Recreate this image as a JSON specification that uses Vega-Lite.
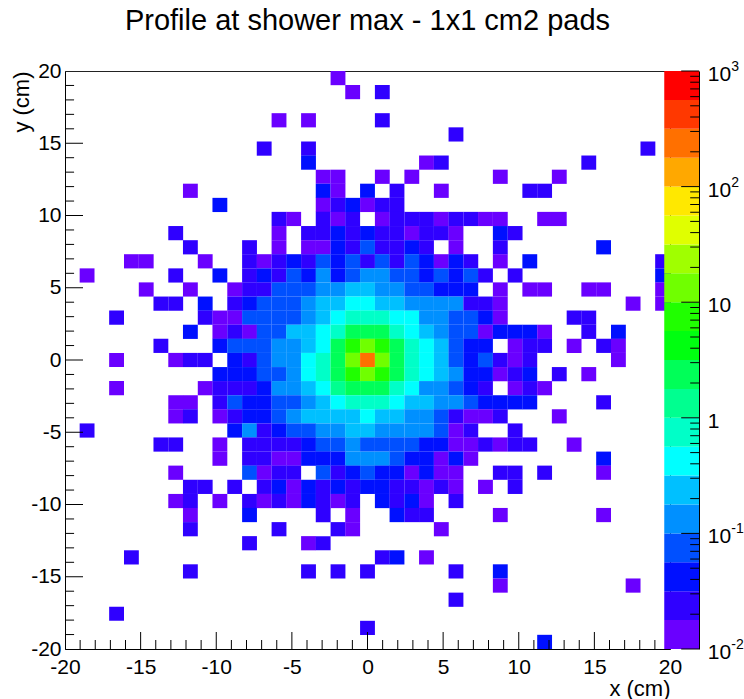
{"$schema":"https://vega.github.io/schema/vega-lite/v6.json","width":605,"height":578,"autosize":"none","padding":{"left":65,"top":71,"right":74,"bottom":50},"background":"white","view":{"stroke":"#222","strokeWidth":1},"config":{"font":"Liberation Sans","axis":{"grid":false}},"title":{"text":"Profile at shower max - 1x1 cm2 pads","font":"Liberation Sans","fontSize":29,"fontWeight":"normal","color":"black","anchor":"middle","frame":"group","baseline":"alphabetic","offset":1},"datasets":{"cells":[
{"x":-1.95,"y":19.51,"v":0.0133},
{"x":-0.98,"y":18.54,"v":0.0133},{"x":0.98,"y":18.54,"v":0.0237},
{"x":-5.85,"y":16.59,"v":0.0133},{"x":-3.9,"y":16.59,"v":0.0133},{"x":0.98,"y":16.59,"v":0.0237},
{"x":5.85,"y":15.61,"v":0.0237},
{"x":-6.83,"y":14.63,"v":0.0237},{"x":-3.9,"y":14.63,"v":0.0237},{"x":18.54,"y":14.63,"v":0.0237},
{"x":-3.9,"y":13.66,"v":0.0422},{"x":3.9,"y":13.66,"v":0.0133},{"x":4.88,"y":13.66,"v":0.0237},{"x":14.63,"y":13.66,"v":0.0237},
{"x":-2.93,"y":12.68,"v":0.0133},{"x":-1.95,"y":12.68,"v":0.0133},{"x":0.98,"y":12.68,"v":0.0133},{"x":2.93,"y":12.68,"v":0.0133},{"x":8.78,"y":12.68,"v":0.0133},{"x":12.68,"y":12.68,"v":0.0133},
{"x":-11.71,"y":11.71,"v":0.0133},{"x":-2.93,"y":11.71,"v":0.0422},{"x":-1.95,"y":11.71,"v":0.0133},{"x":0,"y":11.71,"v":0.0422},{"x":1.95,"y":11.71,"v":0.0237},{"x":4.88,"y":11.71,"v":0.0133},{"x":10.73,"y":11.71,"v":0.0237},{"x":11.71,"y":11.71,"v":0.0237},
{"x":-9.76,"y":10.73,"v":0.0422},{"x":-2.93,"y":10.73,"v":0.0133},{"x":-1.95,"y":10.73,"v":0.0237},{"x":-0.98,"y":10.73,"v":0.0422},{"x":0,"y":10.73,"v":0.0133},{"x":0.98,"y":10.73,"v":0.0237},{"x":1.95,"y":10.73,"v":0.0237},
{"x":-5.85,"y":9.76,"v":0.0237},{"x":-4.88,"y":9.76,"v":0.0133},{"x":-2.93,"y":9.76,"v":0.0237},{"x":-1.95,"y":9.76,"v":0.0133},{"x":-0.98,"y":9.76,"v":0.0237},{"x":0.98,"y":9.76,"v":0.0133},{"x":1.95,"y":9.76,"v":0.0237},{"x":2.93,"y":9.76,"v":0.0237},{"x":3.9,"y":9.76,"v":0.0237},{"x":4.88,"y":9.76,"v":0.0133},{"x":5.85,"y":9.76,"v":0.0237},{"x":6.83,"y":9.76,"v":0.0237},{"x":7.8,"y":9.76,"v":0.0133},{"x":8.78,"y":9.76,"v":0.0133},{"x":11.71,"y":9.76,"v":0.0133},{"x":12.68,"y":9.76,"v":0.0133},
{"x":-12.68,"y":8.78,"v":0.0237},{"x":-5.85,"y":8.78,"v":0.0133},{"x":-3.9,"y":8.78,"v":0.0237},{"x":-2.93,"y":8.78,"v":0.0237},{"x":-1.95,"y":8.78,"v":0.0422},{"x":-0.98,"y":8.78,"v":0.0237},{"x":0,"y":8.78,"v":0.0422},{"x":0.98,"y":8.78,"v":0.0237},{"x":1.95,"y":8.78,"v":0.0237},{"x":2.93,"y":8.78,"v":0.0133},{"x":3.9,"y":8.78,"v":0.0237},{"x":4.88,"y":8.78,"v":0.0237},{"x":5.85,"y":8.78,"v":0.0133},{"x":8.78,"y":8.78,"v":0.0422},{"x":9.76,"y":8.78,"v":0.0237},
{"x":-11.71,"y":7.8,"v":0.0237},{"x":-7.8,"y":7.8,"v":0.0237},{"x":-5.85,"y":7.8,"v":0.0133},{"x":-3.9,"y":7.8,"v":0.0133},{"x":-2.93,"y":7.8,"v":0.0133},{"x":-1.95,"y":7.8,"v":0.0422},{"x":-0.98,"y":7.8,"v":0.0237},{"x":0,"y":7.8,"v":0.075},{"x":0.98,"y":7.8,"v":0.0237},{"x":1.95,"y":7.8,"v":0.0237},{"x":2.93,"y":7.8,"v":0.0422},{"x":3.9,"y":7.8,"v":0.0237},{"x":5.85,"y":7.8,"v":0.0133},{"x":8.78,"y":7.8,"v":0.0237},{"x":15.61,"y":7.8,"v":0.0422},
{"x":-15.61,"y":6.83,"v":0.0133},{"x":-14.63,"y":6.83,"v":0.0133},{"x":-10.73,"y":6.83,"v":0.0133},{"x":-7.8,"y":6.83,"v":0.0237},{"x":-6.83,"y":6.83,"v":0.0133},{"x":-5.85,"y":6.83,"v":0.0237},{"x":-4.88,"y":6.83,"v":0.0422},{"x":-3.9,"y":6.83,"v":0.0237},{"x":-2.93,"y":6.83,"v":0.075},{"x":-1.95,"y":6.83,"v":0.0422},{"x":-0.98,"y":6.83,"v":0.075},{"x":0,"y":6.83,"v":0.0237},{"x":0.98,"y":6.83,"v":0.075},{"x":1.95,"y":6.83,"v":0.0237},{"x":2.93,"y":6.83,"v":0.075},{"x":3.9,"y":6.83,"v":0.0422},{"x":4.88,"y":6.83,"v":0.0133},{"x":5.85,"y":6.83,"v":0.0422},{"x":6.83,"y":6.83,"v":0.0237},{"x":8.78,"y":6.83,"v":0.0133},{"x":10.73,"y":6.83,"v":0.0422},{"x":19.51,"y":6.83,"v":0.0237},
{"x":-18.54,"y":5.85,"v":0.0133},{"x":-12.68,"y":5.85,"v":0.0237},{"x":-9.76,"y":5.85,"v":0.0422},{"x":-7.8,"y":5.85,"v":0.0237},{"x":-6.83,"y":5.85,"v":0.0422},{"x":-5.85,"y":5.85,"v":0.0237},{"x":-4.88,"y":5.85,"v":0.075},{"x":-3.9,"y":5.85,"v":0.0422},{"x":-2.93,"y":5.85,"v":0.133},{"x":-1.95,"y":5.85,"v":0.0422},{"x":-0.98,"y":5.85,"v":0.075},{"x":0,"y":5.85,"v":0.133},{"x":0.98,"y":5.85,"v":0.133},{"x":1.95,"y":5.85,"v":0.075},{"x":2.93,"y":5.85,"v":0.075},{"x":3.9,"y":5.85,"v":0.0422},{"x":4.88,"y":5.85,"v":0.075},{"x":5.85,"y":5.85,"v":0.0422},{"x":6.83,"y":5.85,"v":0.075},{"x":7.8,"y":5.85,"v":0.0237},{"x":9.76,"y":5.85,"v":0.0237},{"x":19.51,"y":5.85,"v":0.0422},
{"x":-14.63,"y":4.88,"v":0.0133},{"x":-11.71,"y":4.88,"v":0.0133},{"x":-8.78,"y":4.88,"v":0.0133},{"x":-7.8,"y":4.88,"v":0.0237},{"x":-6.83,"y":4.88,"v":0.0237},{"x":-5.85,"y":4.88,"v":0.075},{"x":-4.88,"y":4.88,"v":0.075},{"x":-3.9,"y":4.88,"v":0.075},{"x":-2.93,"y":4.88,"v":0.133},{"x":-1.95,"y":4.88,"v":0.133},{"x":-0.98,"y":4.88,"v":0.237},{"x":0,"y":4.88,"v":0.237},{"x":0.98,"y":4.88,"v":0.133},{"x":1.95,"y":4.88,"v":0.133},{"x":2.93,"y":4.88,"v":0.075},{"x":3.9,"y":4.88,"v":0.075},{"x":4.88,"y":4.88,"v":0.0422},{"x":5.85,"y":4.88,"v":0.0422},{"x":6.83,"y":4.88,"v":0.0422},{"x":8.78,"y":4.88,"v":0.0133},{"x":10.73,"y":4.88,"v":0.0133},{"x":11.71,"y":4.88,"v":0.0133},{"x":14.63,"y":4.88,"v":0.0133},{"x":15.61,"y":4.88,"v":0.0133},{"x":19.51,"y":4.88,"v":0.0133},
{"x":-13.66,"y":3.9,"v":0.0237},{"x":-12.68,"y":3.9,"v":0.0237},{"x":-10.73,"y":3.9,"v":0.0422},{"x":-8.78,"y":3.9,"v":0.0237},{"x":-7.8,"y":3.9,"v":0.0422},{"x":-6.83,"y":3.9,"v":0.075},{"x":-5.85,"y":3.9,"v":0.075},{"x":-4.88,"y":3.9,"v":0.075},{"x":-3.9,"y":3.9,"v":0.133},{"x":-2.93,"y":3.9,"v":0.237},{"x":-1.95,"y":3.9,"v":0.237},{"x":-0.98,"y":3.9,"v":0.422},{"x":0,"y":3.9,"v":0.422},{"x":0.98,"y":3.9,"v":0.237},{"x":1.95,"y":3.9,"v":0.237},{"x":2.93,"y":3.9,"v":0.133},{"x":3.9,"y":3.9,"v":0.133},{"x":4.88,"y":3.9,"v":0.133},{"x":5.85,"y":3.9,"v":0.133},{"x":6.83,"y":3.9,"v":0.0237},{"x":7.8,"y":3.9,"v":0.0237},{"x":8.78,"y":3.9,"v":0.0133},{"x":17.56,"y":3.9,"v":0.0133},{"x":19.51,"y":3.9,"v":0.0133},
{"x":-16.59,"y":2.93,"v":0.0237},{"x":-10.73,"y":2.93,"v":0.0237},{"x":-9.76,"y":2.93,"v":0.0133},{"x":-8.78,"y":2.93,"v":0.0133},{"x":-7.8,"y":2.93,"v":0.075},{"x":-6.83,"y":2.93,"v":0.075},{"x":-5.85,"y":2.93,"v":0.075},{"x":-4.88,"y":2.93,"v":0.075},{"x":-3.9,"y":2.93,"v":0.133},{"x":-2.93,"y":2.93,"v":0.237},{"x":-1.95,"y":2.93,"v":0.422},{"x":-0.98,"y":2.93,"v":0.75},{"x":0,"y":2.93,"v":0.75},{"x":0.98,"y":2.93,"v":0.75},{"x":1.95,"y":2.93,"v":0.422},{"x":2.93,"y":2.93,"v":0.422},{"x":3.9,"y":2.93,"v":0.133},{"x":4.88,"y":2.93,"v":0.133},{"x":5.85,"y":2.93,"v":0.075},{"x":6.83,"y":2.93,"v":0.075},{"x":7.8,"y":2.93,"v":0.0422},{"x":8.78,"y":2.93,"v":0.0133},{"x":13.66,"y":2.93,"v":0.0237},{"x":14.63,"y":2.93,"v":0.0237},
{"x":-11.71,"y":1.95,"v":0.0422},{"x":-9.76,"y":1.95,"v":0.0133},{"x":-8.78,"y":1.95,"v":0.0237},{"x":-7.8,"y":1.95,"v":0.0133},{"x":-6.83,"y":1.95,"v":0.075},{"x":-5.85,"y":1.95,"v":0.075},{"x":-4.88,"y":1.95,"v":0.237},{"x":-3.9,"y":1.95,"v":0.237},{"x":-2.93,"y":1.95,"v":0.422},{"x":-1.95,"y":1.95,"v":0.75},{"x":-0.98,"y":1.95,"v":2.37},{"x":0,"y":1.95,"v":2.37},{"x":0.98,"y":1.95,"v":2.37},{"x":1.95,"y":1.95,"v":0.75},{"x":2.93,"y":1.95,"v":0.422},{"x":3.9,"y":1.95,"v":0.237},{"x":4.88,"y":1.95,"v":0.133},{"x":5.85,"y":1.95,"v":0.075},{"x":6.83,"y":1.95,"v":0.075},{"x":7.8,"y":1.95,"v":0.0133},{"x":8.78,"y":1.95,"v":0.0422},{"x":9.76,"y":1.95,"v":0.0422},{"x":10.73,"y":1.95,"v":0.0422},{"x":11.71,"y":1.95,"v":0.0133},{"x":14.63,"y":1.95,"v":0.0237},{"x":16.59,"y":1.95,"v":0.0422},
{"x":-13.66,"y":0.98,"v":0.0237},{"x":-9.76,"y":0.98,"v":0.0422},{"x":-8.78,"y":0.98,"v":0.075},{"x":-7.8,"y":0.98,"v":0.075},{"x":-6.83,"y":0.98,"v":0.075},{"x":-5.85,"y":0.98,"v":0.133},{"x":-4.88,"y":0.98,"v":0.133},{"x":-3.9,"y":0.98,"v":0.237},{"x":-2.93,"y":0.98,"v":0.422},{"x":-1.95,"y":0.98,"v":2.37},{"x":-0.98,"y":0.98,"v":7.5},{"x":0,"y":0.98,"v":13.3},{"x":0.98,"y":0.98,"v":7.5},{"x":1.95,"y":0.98,"v":2.37},{"x":2.93,"y":0.98,"v":0.75},{"x":3.9,"y":0.98,"v":0.422},{"x":4.88,"y":0.98,"v":0.237},{"x":5.85,"y":0.98,"v":0.075},{"x":6.83,"y":0.98,"v":0.0422},{"x":7.8,"y":0.98,"v":0.0422},{"x":9.76,"y":0.98,"v":0.0133},{"x":10.73,"y":0.98,"v":0.0237},{"x":11.71,"y":0.98,"v":0.0237},{"x":13.66,"y":0.98,"v":0.0133},{"x":15.61,"y":0.98,"v":0.0237},{"x":16.59,"y":0.98,"v":0.0133},
{"x":-16.59,"y":0,"v":0.0133},{"x":-12.68,"y":0,"v":0.0133},{"x":-11.71,"y":0,"v":0.0237},{"x":-10.73,"y":0,"v":0.0237},{"x":-8.78,"y":0,"v":0.0422},{"x":-7.8,"y":0,"v":0.0237},{"x":-6.83,"y":0,"v":0.075},{"x":-5.85,"y":0,"v":0.133},{"x":-4.88,"y":0,"v":0.133},{"x":-3.9,"y":0,"v":0.422},{"x":-2.93,"y":0,"v":0.75},{"x":-1.95,"y":0,"v":2.37},{"x":-0.98,"y":0,"v":13.3},{"x":0,"y":0,"v":237},{"x":0.98,"y":0,"v":13.3},{"x":1.95,"y":0,"v":2.37},{"x":2.93,"y":0,"v":0.75},{"x":3.9,"y":0,"v":0.422},{"x":4.88,"y":0,"v":0.237},{"x":5.85,"y":0,"v":0.075},{"x":6.83,"y":0,"v":0.0422},{"x":7.8,"y":0,"v":0.075},{"x":8.78,"y":0,"v":0.0237},{"x":9.76,"y":0,"v":0.0133},{"x":10.73,"y":0,"v":0.0237},{"x":16.59,"y":0,"v":0.0133},
{"x":-9.76,"y":-0.98,"v":0.0422},{"x":-8.78,"y":-0.98,"v":0.0422},{"x":-7.8,"y":-0.98,"v":0.0422},{"x":-6.83,"y":-0.98,"v":0.075},{"x":-5.85,"y":-0.98,"v":0.075},{"x":-4.88,"y":-0.98,"v":0.133},{"x":-3.9,"y":-0.98,"v":0.422},{"x":-2.93,"y":-0.98,"v":0.75},{"x":-1.95,"y":-0.98,"v":2.37},{"x":-0.98,"y":-0.98,"v":7.5},{"x":0,"y":-0.98,"v":13.3},{"x":0.98,"y":-0.98,"v":7.5},{"x":1.95,"y":-0.98,"v":2.37},{"x":2.93,"y":-0.98,"v":0.75},{"x":3.9,"y":-0.98,"v":0.422},{"x":4.88,"y":-0.98,"v":0.237},{"x":5.85,"y":-0.98,"v":0.133},{"x":6.83,"y":-0.98,"v":0.0422},{"x":7.8,"y":-0.98,"v":0.0422},{"x":8.78,"y":-0.98,"v":0.0133},{"x":9.76,"y":-0.98,"v":0.0237},{"x":10.73,"y":-0.98,"v":0.0422},{"x":12.68,"y":-0.98,"v":0.0237},{"x":14.63,"y":-0.98,"v":0.0133},
{"x":-16.59,"y":-1.95,"v":0.0133},{"x":-10.73,"y":-1.95,"v":0.0133},{"x":-9.76,"y":-1.95,"v":0.0237},{"x":-8.78,"y":-1.95,"v":0.0237},{"x":-7.8,"y":-1.95,"v":0.0237},{"x":-6.83,"y":-1.95,"v":0.0422},{"x":-5.85,"y":-1.95,"v":0.133},{"x":-4.88,"y":-1.95,"v":0.133},{"x":-3.9,"y":-1.95,"v":0.237},{"x":-2.93,"y":-1.95,"v":0.422},{"x":-1.95,"y":-1.95,"v":1.33},{"x":-0.98,"y":-1.95,"v":2.37},{"x":0,"y":-1.95,"v":2.37},{"x":0.98,"y":-1.95,"v":2.37},{"x":1.95,"y":-1.95,"v":0.75},{"x":2.93,"y":-1.95,"v":0.422},{"x":3.9,"y":-1.95,"v":0.133},{"x":4.88,"y":-1.95,"v":0.133},{"x":5.85,"y":-1.95,"v":0.075},{"x":6.83,"y":-1.95,"v":0.0422},{"x":7.8,"y":-1.95,"v":0.0237},{"x":9.76,"y":-1.95,"v":0.0133},{"x":10.73,"y":-1.95,"v":0.0237},{"x":11.71,"y":-1.95,"v":0.0133},
{"x":-12.68,"y":-2.93,"v":0.0133},{"x":-11.71,"y":-2.93,"v":0.0133},{"x":-9.76,"y":-2.93,"v":0.0237},{"x":-8.78,"y":-2.93,"v":0.075},{"x":-7.8,"y":-2.93,"v":0.0422},{"x":-6.83,"y":-2.93,"v":0.0422},{"x":-5.85,"y":-2.93,"v":0.075},{"x":-4.88,"y":-2.93,"v":0.075},{"x":-3.9,"y":-2.93,"v":0.133},{"x":-2.93,"y":-2.93,"v":0.237},{"x":-1.95,"y":-2.93,"v":0.422},{"x":-0.98,"y":-2.93,"v":0.75},{"x":0,"y":-2.93,"v":0.75},{"x":0.98,"y":-2.93,"v":0.75},{"x":1.95,"y":-2.93,"v":0.422},{"x":2.93,"y":-2.93,"v":0.237},{"x":3.9,"y":-2.93,"v":0.237},{"x":4.88,"y":-2.93,"v":0.133},{"x":5.85,"y":-2.93,"v":0.133},{"x":6.83,"y":-2.93,"v":0.075},{"x":7.8,"y":-2.93,"v":0.0422},{"x":8.78,"y":-2.93,"v":0.0422},{"x":9.76,"y":-2.93,"v":0.0422},{"x":10.73,"y":-2.93,"v":0.0422},{"x":15.61,"y":-2.93,"v":0.0237},
{"x":-12.68,"y":-3.9,"v":0.0133},{"x":-11.71,"y":-3.9,"v":0.0237},{"x":-9.76,"y":-3.9,"v":0.0133},{"x":-8.78,"y":-3.9,"v":0.0237},{"x":-7.8,"y":-3.9,"v":0.0422},{"x":-6.83,"y":-3.9,"v":0.0422},{"x":-5.85,"y":-3.9,"v":0.075},{"x":-4.88,"y":-3.9,"v":0.133},{"x":-3.9,"y":-3.9,"v":0.237},{"x":-2.93,"y":-3.9,"v":0.237},{"x":-1.95,"y":-3.9,"v":0.237},{"x":-0.98,"y":-3.9,"v":0.237},{"x":0,"y":-3.9,"v":0.422},{"x":0.98,"y":-3.9,"v":0.237},{"x":1.95,"y":-3.9,"v":0.237},{"x":2.93,"y":-3.9,"v":0.133},{"x":3.9,"y":-3.9,"v":0.133},{"x":4.88,"y":-3.9,"v":0.075},{"x":5.85,"y":-3.9,"v":0.0237},{"x":6.83,"y":-3.9,"v":0.0133},{"x":7.8,"y":-3.9,"v":0.0133},{"x":8.78,"y":-3.9,"v":0.0237},{"x":12.68,"y":-3.9,"v":0.0133},
{"x":-18.54,"y":-4.88,"v":0.0237},{"x":-8.78,"y":-4.88,"v":0.0422},{"x":-7.8,"y":-4.88,"v":0.133},{"x":-6.83,"y":-4.88,"v":0.0237},{"x":-5.85,"y":-4.88,"v":0.0422},{"x":-4.88,"y":-4.88,"v":0.075},{"x":-3.9,"y":-4.88,"v":0.075},{"x":-2.93,"y":-4.88,"v":0.133},{"x":-1.95,"y":-4.88,"v":0.133},{"x":-0.98,"y":-4.88,"v":0.237},{"x":0,"y":-4.88,"v":0.237},{"x":0.98,"y":-4.88,"v":0.133},{"x":1.95,"y":-4.88,"v":0.133},{"x":2.93,"y":-4.88,"v":0.133},{"x":3.9,"y":-4.88,"v":0.133},{"x":4.88,"y":-4.88,"v":0.075},{"x":5.85,"y":-4.88,"v":0.0133},{"x":6.83,"y":-4.88,"v":0.0237},{"x":9.76,"y":-4.88,"v":0.0237},
{"x":-13.66,"y":-5.85,"v":0.0237},{"x":-12.68,"y":-5.85,"v":0.0237},{"x":-9.76,"y":-5.85,"v":0.0133},{"x":-7.8,"y":-5.85,"v":0.0237},{"x":-6.83,"y":-5.85,"v":0.0237},{"x":-5.85,"y":-5.85,"v":0.0237},{"x":-4.88,"y":-5.85,"v":0.0237},{"x":-3.9,"y":-5.85,"v":0.0422},{"x":-2.93,"y":-5.85,"v":0.075},{"x":-1.95,"y":-5.85,"v":0.075},{"x":-0.98,"y":-5.85,"v":0.133},{"x":0,"y":-5.85,"v":0.075},{"x":0.98,"y":-5.85,"v":0.075},{"x":1.95,"y":-5.85,"v":0.075},{"x":2.93,"y":-5.85,"v":0.075},{"x":3.9,"y":-5.85,"v":0.0422},{"x":4.88,"y":-5.85,"v":0.0422},{"x":5.85,"y":-5.85,"v":0.0133},{"x":6.83,"y":-5.85,"v":0.0133},{"x":7.8,"y":-5.85,"v":0.0237},{"x":8.78,"y":-5.85,"v":0.0133},{"x":9.76,"y":-5.85,"v":0.0237},{"x":10.73,"y":-5.85,"v":0.0237},{"x":13.66,"y":-5.85,"v":0.0133},
{"x":-9.76,"y":-6.83,"v":0.0133},{"x":-7.8,"y":-6.83,"v":0.0237},{"x":-6.83,"y":-6.83,"v":0.0237},{"x":-5.85,"y":-6.83,"v":0.0133},{"x":-4.88,"y":-6.83,"v":0.0133},{"x":-3.9,"y":-6.83,"v":0.0422},{"x":-2.93,"y":-6.83,"v":0.0422},{"x":-1.95,"y":-6.83,"v":0.0422},{"x":-0.98,"y":-6.83,"v":0.133},{"x":0,"y":-6.83,"v":0.133},{"x":0.98,"y":-6.83,"v":0.133},{"x":1.95,"y":-6.83,"v":0.075},{"x":2.93,"y":-6.83,"v":0.0422},{"x":3.9,"y":-6.83,"v":0.0422},{"x":4.88,"y":-6.83,"v":0.0133},{"x":5.85,"y":-6.83,"v":0.0422},{"x":6.83,"y":-6.83,"v":0.0133},{"x":15.61,"y":-6.83,"v":0.0422},
{"x":-12.68,"y":-7.8,"v":0.0133},{"x":-7.8,"y":-7.8,"v":0.075},{"x":-6.83,"y":-7.8,"v":0.0133},{"x":-5.85,"y":-7.8,"v":0.0237},{"x":-4.88,"y":-7.8,"v":0.0237},{"x":-2.93,"y":-7.8,"v":0.075},{"x":-1.95,"y":-7.8,"v":0.0237},{"x":-0.98,"y":-7.8,"v":0.0422},{"x":0,"y":-7.8,"v":0.075},{"x":0.98,"y":-7.8,"v":0.0422},{"x":1.95,"y":-7.8,"v":0.0422},{"x":2.93,"y":-7.8,"v":0.0133},{"x":3.9,"y":-7.8,"v":0.0422},{"x":4.88,"y":-7.8,"v":0.0133},{"x":5.85,"y":-7.8,"v":0.0133},{"x":8.78,"y":-7.8,"v":0.0237},{"x":9.76,"y":-7.8,"v":0.0237},{"x":11.71,"y":-7.8,"v":0.0237},{"x":15.61,"y":-7.8,"v":0.0133},
{"x":-11.71,"y":-8.78,"v":0.0237},{"x":-10.73,"y":-8.78,"v":0.0237},{"x":-8.78,"y":-8.78,"v":0.0237},{"x":-6.83,"y":-8.78,"v":0.0237},{"x":-5.85,"y":-8.78,"v":0.0422},{"x":-4.88,"y":-8.78,"v":0.0133},{"x":-3.9,"y":-8.78,"v":0.0422},{"x":-2.93,"y":-8.78,"v":0.0237},{"x":-1.95,"y":-8.78,"v":0.0422},{"x":-0.98,"y":-8.78,"v":0.0237},{"x":0,"y":-8.78,"v":0.0422},{"x":0.98,"y":-8.78,"v":0.0422},{"x":1.95,"y":-8.78,"v":0.0237},{"x":2.93,"y":-8.78,"v":0.0237},{"x":3.9,"y":-8.78,"v":0.0133},{"x":4.88,"y":-8.78,"v":0.0237},{"x":5.85,"y":-8.78,"v":0.0133},{"x":7.8,"y":-8.78,"v":0.0133},{"x":9.76,"y":-8.78,"v":0.0237},
{"x":-12.68,"y":-9.76,"v":0.0133},{"x":-11.71,"y":-9.76,"v":0.0237},{"x":-9.76,"y":-9.76,"v":0.0133},{"x":-7.8,"y":-9.76,"v":0.0237},{"x":-6.83,"y":-9.76,"v":0.0133},{"x":-5.85,"y":-9.76,"v":0.0237},{"x":-4.88,"y":-9.76,"v":0.0133},{"x":-3.9,"y":-9.76,"v":0.0422},{"x":-2.93,"y":-9.76,"v":0.0237},{"x":-1.95,"y":-9.76,"v":0.0133},{"x":-0.98,"y":-9.76,"v":0.0237},{"x":0.98,"y":-9.76,"v":0.0422},{"x":1.95,"y":-9.76,"v":0.0237},{"x":2.93,"y":-9.76,"v":0.0422},{"x":3.9,"y":-9.76,"v":0.0133},{"x":5.85,"y":-9.76,"v":0.0237},
{"x":-11.71,"y":-10.73,"v":0.0133},{"x":-7.8,"y":-10.73,"v":0.0422},{"x":-2.93,"y":-10.73,"v":0.0237},{"x":-0.98,"y":-10.73,"v":0.0133},{"x":1.95,"y":-10.73,"v":0.0422},{"x":2.93,"y":-10.73,"v":0.0237},{"x":3.9,"y":-10.73,"v":0.0237},{"x":8.78,"y":-10.73,"v":0.0133},{"x":15.61,"y":-10.73,"v":0.0133},
{"x":-11.71,"y":-11.71,"v":0.0237},{"x":-5.85,"y":-11.71,"v":0.0237},{"x":-1.95,"y":-11.71,"v":0.0237},{"x":-0.98,"y":-11.71,"v":0.0133},{"x":4.88,"y":-11.71,"v":0.0133},
{"x":-7.8,"y":-12.68,"v":0.0237},{"x":-3.9,"y":-12.68,"v":0.0133},{"x":-2.93,"y":-12.68,"v":0.0237},
{"x":-15.61,"y":-13.66,"v":0.0237},{"x":0.98,"y":-13.66,"v":0.0237},{"x":1.95,"y":-13.66,"v":0.0422},{"x":3.9,"y":-13.66,"v":0.0133},
{"x":-11.71,"y":-14.63,"v":0.0237},{"x":-3.9,"y":-14.63,"v":0.0237},{"x":-1.95,"y":-14.63,"v":0.0237},{"x":0,"y":-14.63,"v":0.0237},{"x":5.85,"y":-14.63,"v":0.0237},{"x":8.78,"y":-14.63,"v":0.0422},
{"x":8.78,"y":-15.61,"v":0.0133},{"x":17.56,"y":-15.61,"v":0.0133},
{"x":5.85,"y":-16.59,"v":0.0237},
{"x":-16.59,"y":-17.56,"v":0.0237},
{"x":0,"y":-18.54,"v":0.0237},
{"x":11.71,"y":-19.51,"v":0.0422}
],"bands":[
{"lo":0.01,"hi":0.01778,"m":0.0133},{"lo":0.01778,"hi":0.03162,"m":0.0237},{"lo":0.03162,"hi":0.05623,"m":0.0422},{"lo":0.05623,"hi":0.1,"m":0.075},{"lo":0.1,"hi":0.1778,"m":0.133},{"lo":0.1778,"hi":0.3162,"m":0.237},{"lo":0.3162,"hi":0.5623,"m":0.422},{"lo":0.5623,"hi":1,"m":0.75},{"lo":1,"hi":1.778,"m":1.33},{"lo":1.778,"hi":3.162,"m":2.37},{"lo":3.162,"hi":5.623,"m":4.22},{"lo":5.623,"hi":10,"m":7.5},{"lo":10,"hi":17.78,"m":13.3},{"lo":17.78,"hi":31.62,"m":23.7},{"lo":31.62,"hi":56.23,"m":42.2},{"lo":56.23,"hi":100,"m":75},{"lo":100,"hi":177.8,"m":133},{"lo":177.8,"hi":316.2,"m":237},{"lo":316.2,"hi":562.3,"m":422},{"lo":562.3,"hi":1000,"m":750}
],"labels":[
{"v":0.01,"base":"10","exp":"-2"},{"v":0.1,"base":"10","exp":"-1"},{"v":1,"base":"1","exp":""},{"v":10,"base":"10","exp":""},{"v":100,"base":"10","exp":"2"},{"v":1000,"base":"10","exp":"3"}
],"minorticks":[{"pos":-19},{"pos":-18},{"pos":-17},{"pos":-16},{"pos":-14},{"pos":-13},{"pos":-12},{"pos":-11},{"pos":-9},{"pos":-8},{"pos":-7},{"pos":-6},{"pos":-4},{"pos":-3},{"pos":-2},{"pos":-1},{"pos":1},{"pos":2},{"pos":3},{"pos":4},{"pos":6},{"pos":7},{"pos":8},{"pos":9},{"pos":11},{"pos":12},{"pos":13},{"pos":14},{"pos":16},{"pos":17},{"pos":18},{"pos":19}],
"majorticks":[{"pos":-15},{"pos":-10},{"pos":-5},{"pos":0},{"pos":5},{"pos":10},{"pos":15}],
"logminor":[{"pos":0.02},{"pos":0.03},{"pos":0.04},{"pos":0.05},{"pos":0.06},{"pos":0.07},{"pos":0.08},{"pos":0.09},{"pos":0.2},{"pos":0.3},{"pos":0.4},{"pos":0.5},{"pos":0.6},{"pos":0.7},{"pos":0.8},{"pos":0.9},{"pos":2},{"pos":3},{"pos":4},{"pos":5},{"pos":6},{"pos":7},{"pos":8},{"pos":9},{"pos":20},{"pos":30},{"pos":40},{"pos":50},{"pos":60},{"pos":70},{"pos":80},{"pos":90},{"pos":200},{"pos":300},{"pos":400},{"pos":500},{"pos":600},{"pos":700},{"pos":800},{"pos":900}],
"logmajor":[{"pos":0.01},{"pos":0.1},{"pos":1},{"pos":10},{"pos":100},{"pos":1000}]},
"resolve":{"scale":{"y":"independent","x":"shared","color":"independent"},"axis":{"y":"independent","x":"independent"}},
"layer":[
{"data":{"name":"cells"},"mark":{"type":"rect","width":14.85,"height":14.2},
"encoding":{
"x":{"field":"x","type":"quantitative","scale":{"domain":[-20,20],"nice":false,"zero":false},
"axis":{"orient":"bottom","values":[-20,-15,-10,-5,0,5,10,15,20],"labelExpr":"'' + datum.value","labelFont":"Liberation Sans","labelFontSize":21,"labelColor":"black","labelFlush":false,"labelOverlap":false,"labelPadding":7,"labelBound":false,"ticks":false,"domainColor":"black","zindex":1,"title":"x (cm)","titleFont":"Liberation Sans","titleFontSize":22,"titleFontWeight":"normal","titleColor":"black","titleAlign":"right","titleBaseline":"alphabetic","titleAnchor":"end","titleX":605,"titleY":46}},
"y":{"field":"y","type":"quantitative","scale":{"domain":[-20,20],"nice":false,"zero":false},
"axis":{"orient":"left","values":[-20,-15,-10,-5,0,5,10,15,20],"labelExpr":"'' + datum.value","labelFont":"Liberation Sans","labelFontSize":21,"labelColor":"black","labelOverlap":false,"labelFlush":false,"labelBound":false,"labelPadding":4,"ticks":false,"domainColor":"black","zindex":1,"title":"y (cm)","titleFont":"Liberation Sans","titleFontSize":22,"titleFontWeight":"normal","titleColor":"black","titleAlign":"right","titleBaseline":"alphabetic","titleAnchor":"end","titleAngle":-90,"titleX":-37,"titleY":0}},
"color":{"field":"v","type":"quantitative","legend":null,"scale":{"type":"threshold","domain":[0.01778,0.03162,0.05623,0.1,0.1778,0.3162,0.5623,1,1.778,3.162,5.623,10,17.78,31.62,56.23,100,177.8,316.2,562.3],"range":["#6a00ff","#2f00ff","#0010ff","#0050ff","#0090ff","#00c0ff","#00ffff","#00ffc8","#00ff90","#00ff58","#00ff10","#20ff00","#70ff00","#a0ff00","#e0ff00","#ffe800","#ffa800","#ff7000","#ff3800","#ff0000"]}}
}},
{"data":{"name":"minorticks"},"mark":{"type":"rect","width":1},"encoding":{"x":{"field":"pos","type":"quantitative","axis":null},"y":{"datum":-20,"type":"quantitative","scale":{"domain":[-20,20],"nice":false,"zero":false},"axis":null},"y2":{"datum":-19.38},"color":{"field":"pos","type":"quantitative","legend":null,"scale":{"range":["#000000","#000000"]}}}},
{"data":{"name":"majorticks"},"mark":{"type":"rect","width":1},"encoding":{"x":{"field":"pos","type":"quantitative","axis":null},"y":{"datum":-20,"type":"quantitative","scale":{"domain":[-20,20],"nice":false,"zero":false},"axis":null},"y2":{"datum":-18.82},"color":{"field":"pos","type":"quantitative","legend":null,"scale":{"range":["#000000","#000000"]}}}},
{"data":{"name":"minorticks"},"mark":{"type":"rect","height":1},"encoding":{"y":{"field":"pos","type":"quantitative","scale":{"domain":[-20,20],"nice":false,"zero":false},"axis":null},"x":{"datum":-20,"type":"quantitative","axis":null},"x2":{"datum":-19.4},"color":{"field":"pos","type":"quantitative","legend":null,"scale":{"range":["#000000","#000000"]}}}},
{"data":{"name":"majorticks"},"mark":{"type":"rect","height":1},"encoding":{"y":{"field":"pos","type":"quantitative","scale":{"domain":[-20,20],"nice":false,"zero":false},"axis":null},"x":{"datum":-20,"type":"quantitative","axis":null},"x2":{"datum":-18.81},"color":{"field":"pos","type":"quantitative","legend":null,"scale":{"range":["#000000","#000000"]}}}},
{"data":{"name":"bands"},"mark":{"type":"rect"},
"encoding":{
"x":{"datum":19.62,"type":"quantitative","axis":null},"x2":{"datum":21.93},
"y":{"field":"lo","type":"quantitative","scale":{"type":"log","domain":[0.01,1000],"nice":false},
"axis":{"orient":"right","offset":29,"title":null,"labels":false,"ticks":false,"values":[0.01,1000],"domainColor":"black","zindex":1}},
"y2":{"field":"hi"},
"color":{"field":"m","type":"quantitative","legend":null,"scale":{"type":"threshold","domain":[0.01778,0.03162,0.05623,0.1,0.1778,0.3162,0.5623,1,1.778,3.162,5.623,10,17.78,31.62,56.23,100,177.8,316.2,562.3],"range":["#6a00ff","#2f00ff","#0010ff","#0050ff","#0090ff","#00c0ff","#00ffff","#00ffc8","#00ff90","#00ff58","#00ff10","#20ff00","#70ff00","#a0ff00","#e0ff00","#ffe800","#ffa800","#ff7000","#ff3800","#ff0000"]}}
}},
{"data":{"name":"logminor"},"mark":{"type":"rect","height":1},"encoding":{"y":{"field":"pos","type":"quantitative","scale":{"type":"log","domain":[0.01,1000],"nice":false},"axis":null},"x":{"datum":21.93,"type":"quantitative","axis":null},"x2":{"datum":21.335},"color":{"field":"pos","type":"quantitative","legend":null,"scale":{"range":["#000000","#000000"]}}}},
{"data":{"name":"logmajor"},"mark":{"type":"rect","height":1},"encoding":{"y":{"field":"pos","type":"quantitative","scale":{"type":"log","domain":[0.01,1000],"nice":false},"axis":null},"x":{"datum":21.93,"type":"quantitative","axis":null},"x2":{"datum":20.74},"color":{"field":"pos","type":"quantitative","legend":null,"scale":{"range":["#000000","#000000"]}}}},
{"data":{"name":"labels"},"mark":{"type":"text","font":"Liberation Sans","fontSize":21,"align":"left","baseline":"alphabetic","dy":10,"color":"black"},
"encoding":{"x":{"datum":22.5,"type":"quantitative","axis":null},"y":{"field":"v","type":"quantitative","axis":null,"scale":{"type":"log","domain":[0.01,1000],"nice":false}},"text":{"field":"base"}}},
{"data":{"name":"labels"},"mark":{"type":"text","font":"Liberation Sans","fontSize":14,"align":"left","baseline":"alphabetic","dy":0,"color":"black"},
"encoding":{"x":{"datum":24.05,"type":"quantitative","axis":null},"y":{"field":"v","type":"quantitative","axis":null,"scale":{"type":"log","domain":[0.01,1000],"nice":false}},"text":{"field":"exp"}}}
]}
